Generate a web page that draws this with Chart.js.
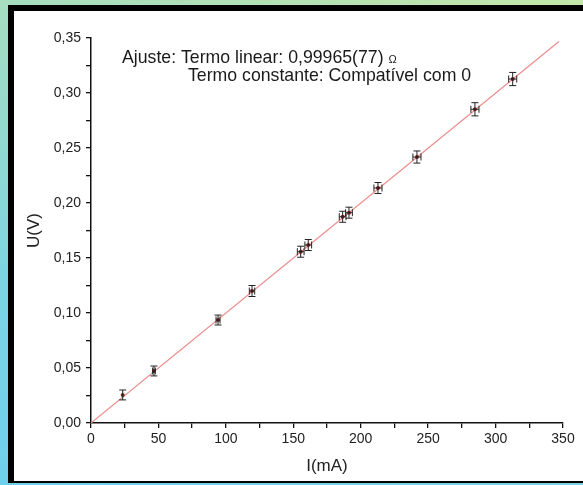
<!DOCTYPE html>
<html>
<head>
<meta charset="utf-8">
<script src="https://cdn.jsdelivr.net/npm/chart.js@4.4.0/dist/chart.umd.min.js"></script>
<style>
  html, body { margin: 0; padding: 0; }
  body {
    width: 583px; height: 485px; overflow: hidden; position: relative;
    background: linear-gradient(200deg, #c3e7a9 0%, #a2dcc3 35%, #7cd4e2 70%, #6fd0ec 100%);
  }
  #frame {
    position: absolute; left: 8px; top: 5px; width: 575px; height: 478px;
    box-sizing: border-box; background: #fff;
    border-left: 6px solid #000; border-top: 6px solid #000; border-bottom: 2px solid #000;
  }
  #wrap { position: absolute; left: 0; top: 0; width: 583px; height: 485px; }
</style>
</head>
<body>
<div id="frame"></div>
<div id="wrap"><canvas id="chart"></canvas></div>
<script>
// measured points, I in mA, U in V
const current = [23.5, 46.7, 94.2, 119.4, 155.5, 161.1, 186.6, 191.3, 212.8, 241.7, 284.7, 312.7]
const voltage = [0.0255, 0.0473, 0.0936, 0.1200, 0.1557, 0.1618, 0.1875, 0.1912, 0.2136, 0.2418, 0.2852, 0.3127]
const currentErr = [0.5, 1, 1.5, 2, 2.5, 2.5, 2.5, 2.5, 3, 3, 3, 3]
const voltageErr = [0.0045, 0.0045, 0.0045, 0.005, 0.005, 0.005, 0.005, 0.005, 0.005, 0.0055, 0.006, 0.006]

// linear fit U = slope * I  (slope in V/mA)
const fitSlope = 0.99965 / 1000
const fitRange = [0, 347]

const xTickLabels = ['0', '50', '100', '150', '200', '250', '300', '350']
const yTickLabels = ['0,00', '0,05', '0,10', '0,15', '0,20', '0,25', '0,30', '0,35']

const noteLines = ['Ajuste: Termo linear: 0,99965(77)', 'Termo constante: Compatível com 0']

const points = current.map((c, i) => ({ x: c, y: voltage[i] }))
const fitLine = fitRange.map(c => ({ x: c, y: fitSlope * c }))

const font = 'Liberation Sans, Arial, sans-serif'

const errorBars = {
  id: 'errorBars',
  afterDatasetsDraw (chart) {
    const xs = chart.scales.x
    const ys = chart.scales.y
    const ctx = chart.ctx
    ctx.save()
    ctx.strokeStyle = '#222'
    ctx.lineWidth = 1
    current.forEach((c, i) => {
      const px = xs.getPixelForValue(c)
      const py = ys.getPixelForValue(voltage[i])
      const top = ys.getPixelForValue(voltage[i] + voltageErr[i])
      const bot = ys.getPixelForValue(voltage[i] - voltageErr[i])
      const lft = xs.getPixelForValue(c - currentErr[i])
      const rgt = xs.getPixelForValue(c + currentErr[i])
      ctx.beginPath()
      ctx.moveTo(px, top); ctx.lineTo(px, bot)
      ctx.moveTo(px - 3.5, top); ctx.lineTo(px + 3.5, top)
      ctx.moveTo(px - 3.5, bot); ctx.lineTo(px + 3.5, bot)
      if (rgt - lft > 2) {
        ctx.moveTo(lft, py); ctx.lineTo(rgt, py)
        ctx.moveTo(lft, py - 3.5); ctx.lineTo(lft, py + 3.5)
        ctx.moveTo(rgt, py - 3.5); ctx.lineTo(rgt, py + 3.5)
      }
      ctx.stroke()
    })
    ctx.restore()
  }
}

const note = {
  id: 'note',
  afterDraw (chart) {
    const ctx = chart.ctx
    ctx.save()
    ctx.fillStyle = '#1a1a1a'
    ctx.textBaseline = 'alphabetic'
    ctx.font = '17.7px ' + font
    ctx.fillText(noteLines[0], 122, 63)
    const w = ctx.measureText(noteLines[0] + ' ').width
    ctx.font = '11px ' + font
    ctx.fillText('Ω', 122 + w, 63)
    ctx.font = '17.7px ' + font
    ctx.fillText(noteLines[1], 188, 81)
    ctx.restore()
  }
}

const isMajor = (v, step) => Math.abs(v / step - Math.round(v / step)) < 1e-6

new Chart(document.getElementById('chart'), {
  type: 'scatter',
  data: {
    datasets: [{
      label: 'dados',
      data: points,
      order: 0,
      pointRadius: 2,
      pointBackgroundColor: '#8b1a1a',
      pointBorderColor: '#8b1a1a',
      pointBorderWidth: 0
    }, {
      label: 'ajuste',
      data: fitLine,
      order: 1,
      showLine: true,
      pointRadius: 0,
      borderColor: '#ec8c8c',
      borderWidth: 1.2
    }]
  },
  options: {
    responsive: true,
    maintainAspectRatio: false,
    animation: false,
    layout: { padding: { left: 14, right: 20, top: 38, bottom: 0 } },
    plugins: { legend: { display: false }, tooltip: { enabled: false } },
    scales: {
      x: {
        type: 'linear', min: 0, max: 350,
        afterFit (s) { s.height = 62 },
        border: { color: '#111', width: 1.5 },
        grid: { drawOnChartArea: false, color: '#111', tickLength: 5, lineWidth: 1.3 },
        ticks: {
          stepSize: 25, autoSkip: false, maxRotation: 0, padding: 3,
          color: '#222', font: { family: font, size: 14 },
          callback: v => isMajor(v, 50) ? xTickLabels[Math.round(v / 50)] : ''
        },
        title: { display: true, text: 'I(mA)', color: '#222', font: { family: font, size: 17 }, padding: { bottom: 8 } }
      },
      y: {
        type: 'linear', min: 0, max: 0.35,
        afterFit (s) { s.width = 77 },
        border: { color: '#111', width: 1.5 },
        grid: { drawOnChartArea: false, color: '#111', tickLength: 5, lineWidth: 1.3 },
        ticks: {
          stepSize: 0.025, autoSkip: false, padding: 5,
          color: '#222', font: { family: font, size: 14 },
          callback: v => isMajor(v, 0.05) ? yTickLabels[Math.round(v / 0.05)] : ''
        },
        title: { display: true, text: 'U(V)', color: '#222', font: { family: font, size: 17 }, padding: { top: 10 } }
      }
    }
  },
  plugins: [errorBars, note]
})
</script>
</body>
</html>
